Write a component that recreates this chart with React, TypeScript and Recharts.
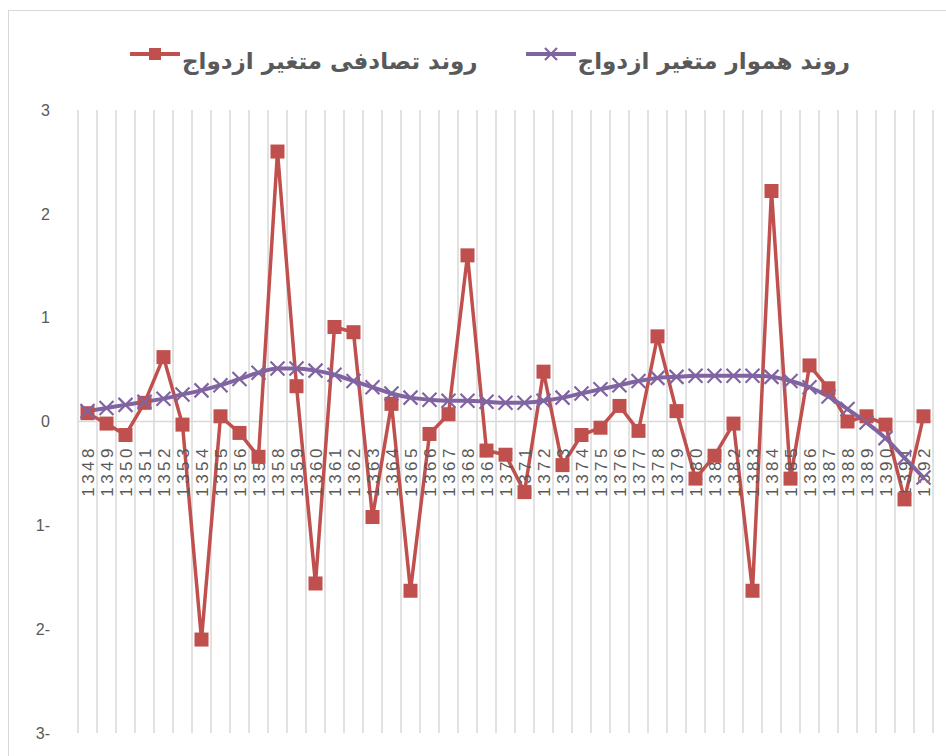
import React from 'react';
import { LineChart, Line, XAxis, YAxis, CartesianGrid, ReferenceLine } from 'recharts';

const years = [
  '1348', '1349', '1350', '1351', '1352', '1353', '1354', '1355', '1356', '1357',
  '1358', '1359', '1360', '1361', '1362', '1363', '1364', '1365', '1366', '1367',
  '1368', '1369', '1370', '1371', '1372', '1373', '1374', '1375', '1376', '1377',
  '1378', '1379', '1380', '1381', '1382', '1383', '1384', '1385', '1386', '1387',
  '1388', '1389', '1390', '1391', '1392',
];

const randomTrend = [
  0.08, -0.02, -0.13, 0.18, 0.62, -0.03, -2.1, 0.05, -0.11, -0.34,
  2.6, 0.34, -1.56, 0.91, 0.86, -0.92, 0.17, -1.63, -0.12, 0.07,
  1.6, -0.28, -0.32, -0.68, 0.48, -0.42, -0.13, -0.06, 0.15, -0.09,
  0.82, 0.1, -0.55, -0.33, -0.02, -1.63, 2.22, -0.55, 0.54, 0.32,
  0.0, 0.05, -0.03, -0.75, 0.05,
];

const smoothTrend = [
  0.1, 0.13, 0.16, 0.19, 0.22, 0.26, 0.3, 0.35, 0.41, 0.47,
  0.51, 0.51, 0.49, 0.45, 0.39, 0.33, 0.27, 0.23, 0.21, 0.2,
  0.2, 0.19, 0.18, 0.18, 0.2, 0.23, 0.27, 0.31, 0.35, 0.39,
  0.42, 0.43, 0.44, 0.44, 0.44, 0.44, 0.43, 0.39, 0.33, 0.24,
  0.12, -0.01, -0.16, -0.35, -0.54,
];

const yTicks = [-3, -2, -1, 0, 1, 2, 3];

const randomName = 'روند تصادفی متغیر ازدواج';
const smoothName = 'روند هموار متغیر ازدواج';

const RED = '#c0504d';
const PURPLE = '#8064a2';
const GRID = '#d9d9d9';
const TEXT = '#595959';

const data = years.map((year, i) => ({
  pos: i + 0.5,
  year,
  random: randomTrend[i],
  smooth: smoothTrend[i],
  axis: 0,
}));

const gridTicks = [...years.map((_, i) => i), years.length];

const SquareDot = (props: any) => {
  const { cx, cy, index } = props;
  if (cx == null || cy == null) return null;
  return <rect key={`sq-${index}`} x={cx - 7} y={cy - 7} width={14} height={14} fill={RED} />;
};

const CrossDot = (props: any) => {
  const { cx, cy, index } = props;
  if (cx == null || cy == null) return null;
  const s = 7;
  return (
    <g key={`cr-${index}`}>
      <line x1={cx - s} y1={cy - s} x2={cx + s} y2={cy + s} stroke={PURPLE} strokeWidth={2.2} />
      <line x1={cx - s} y1={cy + s} x2={cx + s} y2={cy - s} stroke={PURPLE} strokeWidth={2.2} />
    </g>
  );
};

const YearLabel = (props: any) => {
  const { cx, cy, index, payload } = props;
  if (cx == null || cy == null) return null;
  const ty = cy + 23.5;
  return (
    <text
      key={`yl-${index}`}
      x={cx}
      y={ty}
      transform={`rotate(-90, ${cx}, ${ty})`}
      textAnchor="end"
      dy="0.36em"
      fontSize={17}
      letterSpacing={3.5}
      fill={TEXT}
      fontFamily="'Liberation Sans', Arial, sans-serif"
    >
      {payload.year}
    </text>
  );
};

const EmptyTick = () => <g />;

const LegendBox = () => (
  <div
    style={{
      position: 'absolute',
      left: 0,
      top: 43,
      width: 980,
      direction: 'rtl',
      display: 'flex',
      justifyContent: 'center',
      alignItems: 'center',
      gap: 48,
      fontFamily: "'DejaVu Sans', sans-serif",
      fontWeight: 'bold',
      fontSize: 23,
      lineHeight: '36px',
      color: TEXT,
    }}
  >
    <div style={{ display: 'flex', alignItems: 'center' }}>
      <span>{smoothName}</span>
      <svg width={50} height={20} style={{ marginRight: 2, position: 'relative', top: -7 }}>
        <line x1={0} y1={10} x2={50} y2={10} stroke={PURPLE} strokeWidth={4} />
        <line x1={19} y1={4} x2={31} y2={16} stroke={PURPLE} strokeWidth={2.2} />
        <line x1={19} y1={16} x2={31} y2={4} stroke={PURPLE} strokeWidth={2.2} />
      </svg>
    </div>
    <div style={{ display: 'flex', alignItems: 'center' }}>
      <span>{randomName}</span>
      <svg width={50} height={20} style={{ marginRight: 2, position: 'relative', top: -7 }}>
        <line x1={0} y1={10} x2={50} y2={10} stroke={RED} strokeWidth={4} />
        <rect x={19} y={4} width={12} height={12} fill={RED} />
      </svg>
    </div>
  </div>
);

export default function App() {
  return (
    <div style={{ position: 'absolute', left: 0, top: 0, width: 946, height: 756, overflow: 'hidden', background: '#fff' }}>
      <div
        style={{
          position: 'absolute',
          left: 8,
          top: 10,
          width: 980,
          height: 800,
          border: `1.5px solid ${GRID}`,
          boxSizing: 'border-box',
        }}
      />
      <LegendBox />
      <div style={{ position: 'absolute', left: 0, top: 0 }}>
        <LineChart width={946} height={756} data={data} margin={{ top: 110, right: 13, bottom: 23, left: 0 }}>
          <CartesianGrid horizontal={false} vertical stroke={GRID} strokeWidth={1.5} />
          <XAxis
            type="number"
            dataKey="pos"
            domain={[0, years.length]}
            ticks={gridTicks}
            interval={0}
            tick={EmptyTick}
            tickLine={false}
            axisLine={false}
            height={0}
          />
          <YAxis
            type="number"
            domain={[-3, 3]}
            ticks={yTicks}
            width={78}
            axisLine={false}
            tickLine={false}
            tickMargin={22}
            tick={{ fill: TEXT, fontSize: 16, fontFamily: "'Liberation Sans', Arial, sans-serif" }}
            tickFormatter={(v: number) => (v < 0 ? `${-v}-` : `${v}`)}
          />
          <ReferenceLine y={0} stroke={GRID} strokeWidth={1.5} />
          <Line
            dataKey="axis"
            stroke="none"
            dot={YearLabel}
            activeDot={false}
            legendType="none"
            isAnimationActive={false}
          />
          <Line
            dataKey="random"
            name={randomName}
            type="linear"
            stroke={RED}
            strokeWidth={3.5}
            dot={SquareDot}
            activeDot={false}
            isAnimationActive={false}
          />
          <Line
            dataKey="smooth"
            name={smoothName}
            type="monotone"
            stroke={PURPLE}
            strokeWidth={4}
            dot={CrossDot}
            activeDot={false}
            isAnimationActive={false}
          />
        </LineChart>
      </div>
    </div>
  );
}
